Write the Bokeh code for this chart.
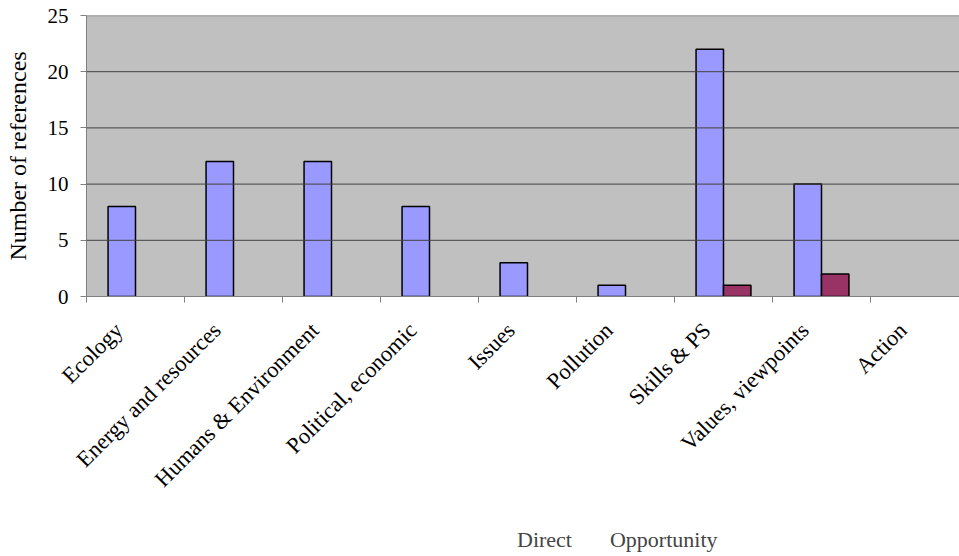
import math
from bokeh.plotting import figure
from bokeh.layouts import column
from bokeh.models import (Range1d, LinearAxis, FixedTicker, Legend, LegendItem,
                          ColumnDataSource, Span)
from bokeh.embed import file_html
from bokeh.resources import INLINE

categories = ["Ecology", "Energy and resources", "Humans & Environment",
              "Political, economic", "Issues", "Pollution", "Skills & PS",
              "Values, viewpoints", "Action"]
direct = [8, 12, 12, 8, 3, 1, 22, 10, 0]
opportunity = [0, 0, 0, 0, 0, 0, 1, 2, 0]
y_ticks = [0, 5, 10, 15, 20, 25]
series_names = ["Direct", "Opportunity"]
series_colors = ["#9999FF", "#993366"]

FONT = "'Liberation Serif', 'Times New Roman', serif"
centers = [i + 0.5 for i in range(len(categories))]
bar_w = 0.28

def bars(values, offset):
    xs = [c + offset for c, v in zip(centers, values) if v > 0]
    ys = [v for v in values if v > 0]
    return ColumnDataSource(dict(x=xs, top=ys))

src_d = bars(direct, -bar_w / 2)
src_o = bars(opportunity, bar_w / 2)

p = figure(frame_width=873, frame_height=281, output_backend="svg",
           toolbar_location=None, x_axis_type=None, y_axis_type=None,
           x_range=Range1d(0, 873 / 98), y_range=Range1d(0, 25),
           min_border_left=86, min_border_right=0, min_border_top=15,
           min_border_bottom=0, background_fill_color="#C0C0C0",
           border_fill_color="white", outline_line_color=None)

label_shift = 0.17
xaxis = LinearAxis(ticker=FixedTicker(ticks=[c - label_shift for c in centers],
                                      minor_ticks=list(range(len(categories) + 1))))
xaxis.major_label_overrides = {c - label_shift: name for c, name in zip(centers, categories)}
xaxis.major_tick_line_color = None
xaxis.minor_tick_line_color = "#808080"
xaxis.minor_tick_out = 6
xaxis.minor_tick_in = 0
xaxis.axis_line_color = "#808080"
xaxis.major_label_orientation = math.pi / 4
xaxis.major_label_text_font = FONT
xaxis.major_label_text_font_size = "22.5px"
xaxis.major_label_text_color = "black"
xaxis.major_label_standoff = 24
p.add_layout(xaxis, "below")

yaxis = LinearAxis(ticker=FixedTicker(ticks=y_ticks))
yaxis.axis_label = "Number of references"
yaxis.axis_label_text_font = FONT
yaxis.axis_label_text_font_size = "24px"
yaxis.axis_label_text_font_style = "normal"
yaxis.axis_label_text_color = "black"
yaxis.axis_label_standoff = 14
yaxis.major_label_text_font = FONT
yaxis.major_label_text_font_size = "21px"
yaxis.major_label_text_color = "black"
yaxis.major_label_standoff = 12
yaxis.major_tick_out = 6
yaxis.major_tick_in = 0
yaxis.major_tick_line_color = "#808080"
yaxis.minor_tick_line_color = None
yaxis.axis_line_color = "#808080"
p.add_layout(yaxis, "left")

p.ygrid.grid_line_color = None
p.xgrid.grid_line_color = None
for t in y_ticks[1:-1]:
    p.add_layout(Span(location=t, dimension="width", line_color="#404040", line_width=1))
p.add_layout(Span(location=25, dimension="width", line_color="#808080", line_width=1.5))

p.vbar(x="x", top="top", width=bar_w, source=src_d,
       fill_color=series_colors[0], line_color="black", line_width=1.5)
p.vbar(x="x", top="top", width=bar_w, source=src_o,
       fill_color=series_colors[1], line_color="black", line_width=1.5)

# legend strip below the chart
lg = figure(width=959, height=64, output_backend="svg", toolbar_location=None,
            x_axis_type=None, y_axis_type=None,
            x_range=Range1d(0, 1), y_range=Range1d(0, 1),
            min_border=0, outline_line_color=None,
            background_fill_color="white", border_fill_color="white")
lg.xgrid.grid_line_color = None
lg.ygrid.grid_line_color = None
items = []
for name, color in zip(series_names, series_colors):
    rr = lg.vbar(x=[], top=[], width=0.1, fill_color=color,
                 line_color="black", line_width=1.5)
    items.append(LegendItem(label=name, renderers=[rr]))

legend = Legend(items=items, orientation="horizontal", location=(411, 14),
                label_text_font=FONT, label_text_font_size="22px",
                glyph_width=11, glyph_height=12, label_standoff=9,
                spacing=18, padding=2, margin=0,
                border_line_color=None, background_fill_alpha=0)
lg.add_layout(legend, "center")

layout = column(p, lg, spacing=0)
open("out.html", "w").write(file_html(layout, INLINE))
